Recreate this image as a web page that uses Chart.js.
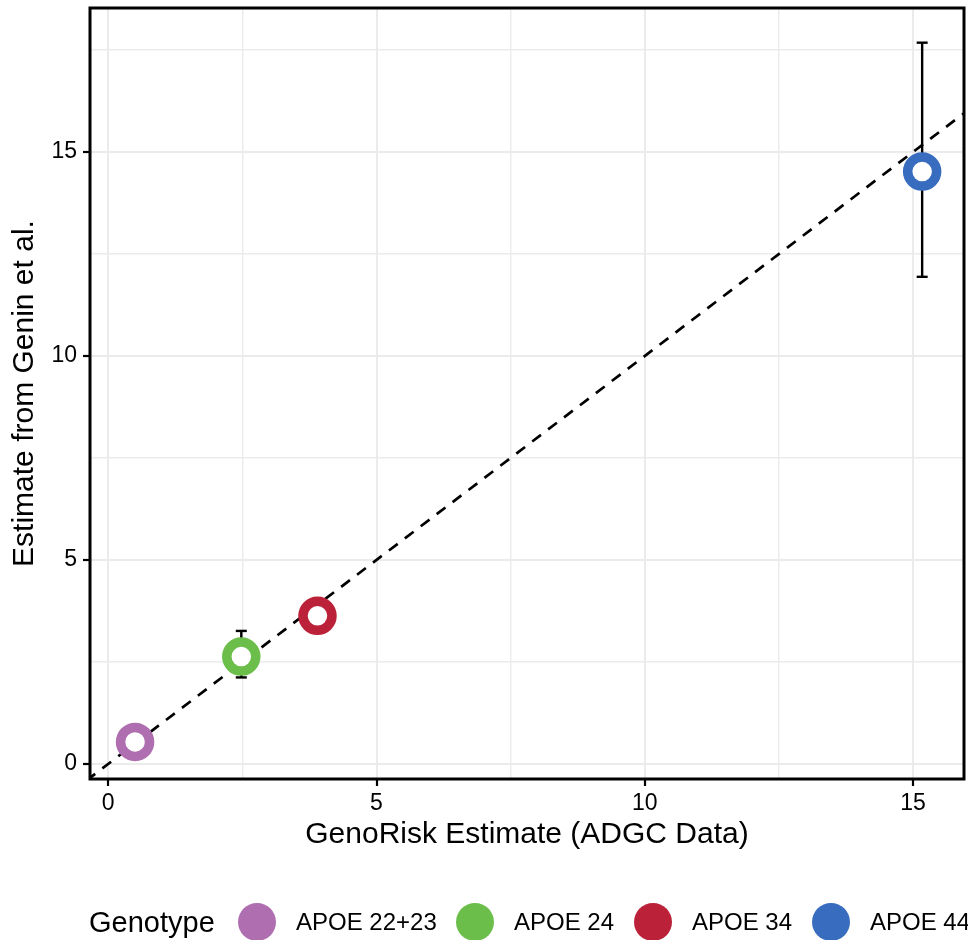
<!DOCTYPE html>
<html lang="en">
<head>
<meta charset="utf-8">
<title>GenoRisk vs Genin et al.</title>
<script src="https://cdn.jsdelivr.net/npm/chart.js@4.4.1/dist/chart.umd.min.js"></script>
<style>
  html, body { margin: 0; padding: 0; background: #fff; overflow: hidden; }
  #wrap { position: relative; width: 968px; height: 940px; overflow: hidden; }
  #legend {
    position: absolute; left: 89px; top: 903px; height: 38px;
    display: flex; align-items: center; white-space: nowrap;
    font-family: 'Liberation Sans', Arial, sans-serif; color: #000;
  }
  #legend .title { font-size: 29px; width: 149px; flex: none; }
  #legend .key { width: 38px; height: 38px; border-radius: 50%; margin-right: 20px; flex: none; }
  #legend .lab { font-size: 24px; flex: none; }
  #legend .l0 { width: 160px; }
  #legend .l1 { width: 120px; }
  #legend .l2 { width: 120px; }
</style>
</head>
<body>
<div id="wrap">
  <canvas id="chart" width="968" height="940"></canvas>
  <div id="legend"></div>
</div>
<script>
// values
const genotypes = ['APOE 22+23', 'APOE 24', 'APOE 34', 'APOE 44'];
const genoRisk = [0.50, 2.48, 3.90, 15.17];   // x: GenoRisk estimate
const genin = [0.54, 2.63, 3.63, 14.52];      // y: Genin et al. estimate
const geninLow = [null, 2.12, null, 11.94];   // error bar ends (only where visible)
const geninHigh = [null, 3.26, null, 17.68];
const identityLine = [-1, 17];                // y = x reference line
const xTicks = [0, 2.5, 5, 7.5, 10, 12.5, 15];
const yTicks = [0, 2.5, 5, 7.5, 10, 12.5, 15, 17.5];
const xLimits = [-0.34, 15.95];
const yLimits = [-0.37, 18.53];

const colors = ['#AE6EB0', '#6CBE4B', '#BB2138', '#386CBE'];
const fontFamily = "'Liberation Sans', Arial, sans-serif";

document.addEventListener('DOMContentLoaded', () => {
    const legend = document.getElementById('legend');
    legend.innerHTML = '<span class="title">Genotype</span>' + genotypes.map((g, i) =>
        `<span class="key" style="background:${colors[i]}"></span><span class="lab l${i}">${g}</span>`
    ).join('');

    const isMajor = v => v % 5 === 0;

    const pointSets = genotypes.map((g, i) => ({
        label: g,
        type: 'scatter',
        data: [{ x: genoRisk[i], y: genin[i] }],
        pointRadius: 14.5,
        pointHoverRadius: 14.5,
        pointBorderWidth: 9.5,
        pointBackgroundColor: '#fff',
        pointBorderColor: colors[i],
        order: 0
    }));

    const errorSets = genotypes
        .map((g, i) => i)
        .filter(i => geninLow[i] !== null)
        .map(i => ({
            label: genotypes[i] + ' CI',
            type: 'line',
            data: [{ x: genoRisk[i], y: geninLow[i] }, { x: genoRisk[i], y: geninHigh[i] }],
            borderColor: '#000',
            borderWidth: 2.4,
            pointStyle: 'line',
            pointRadius: 5.5,
            pointHoverRadius: 5.5,
            pointBorderWidth: 2.4,
            pointBorderColor: '#000',
            order: 1
        }));

    const refLine = {
        label: 'y = x',
        type: 'line',
        data: identityLine.map(v => ({ x: v, y: v })),
        borderColor: '#000',
        borderWidth: 2.7,
        borderDash: [11, 9],
        pointRadius: 0,
        clip: 0,
        order: 2
    };

    const panelBorder = {
        id: 'panelBorder',
        afterDraw(chart) {
            const { ctx, chartArea: a } = chart;
            ctx.save();
            ctx.strokeStyle = '#000';
            ctx.lineWidth = 3;
            ctx.strokeRect(a.left, a.top, a.right - a.left, a.bottom - a.top);
            ctx.restore();
        }
    };

    const gridFor = () => ({
        color: '#EBEBEB',
        lineWidth: c => (c.tick && isMajor(c.tick.value) ? 2 : 1.4),
        tickColor: c => (c.tick && isMajor(c.tick.value) ? '#000' : 'rgba(0,0,0,0)'),
        tickWidth: 2.2,
        tickLength: 7
    });

    // fixed axis boxes so the panel sits where it does in the figure
    const noPad = s => { s.paddingTop = 0; s.paddingBottom = 0; s.paddingLeft = 0; s.paddingRight = 0; };

    new Chart(document.getElementById('chart'), {
        type: 'scatter',
        data: { datasets: [...pointSets, ...errorSets, refLine] },
        options: {
            responsive: false,
            animation: false,
            layout: { autoPadding: false, padding: { top: 8, right: 4, bottom: 90, left: 0 } },
            plugins: { legend: { display: false }, tooltip: { enabled: false } },
            scales: {
                x: {
                    type: 'linear',
                    min: xLimits[0],
                    max: xLimits[1],
                    afterBuildTicks: s => { s.ticks = xTicks.map(v => ({ value: v })); },
                    afterFit: s => { s.height = 71; noPad(s); },
                    ticks: {
                        callback: v => (isMajor(v) ? String(v) : ''),
                        autoSkip: false,
                        maxRotation: 0,
                        padding: 4,
                        color: '#000',
                        font: { family: fontFamily, size: 23 }
                    },
                    grid: gridFor(),
                    border: { display: false },
                    title: {
                        display: true,
                        text: 'GenoRisk Estimate (ADGC Data)',
                        color: '#000',
                        font: { family: fontFamily, size: 30, lineHeight: 1 },
                        padding: { top: 0, bottom: 0 }
                    }
                },
                y: {
                    type: 'linear',
                    min: yLimits[0],
                    max: yLimits[1],
                    afterBuildTicks: s => { s.ticks = yTicks.map(v => ({ value: v })); },
                    afterFit: s => { s.width = 90; noPad(s); },
                    ticks: {
                        callback: v => (isMajor(v) ? String(v) : ''),
                        autoSkip: false,
                        padding: 6,
                        color: '#000',
                        font: { family: fontFamily, size: 23 }
                    },
                    grid: gridFor(),
                    border: { display: false },
                    title: {
                        display: true,
                        text: 'Estimate from Genin et al.',
                        color: '#000',
                        font: { family: fontFamily, size: 30, lineHeight: 1 },
                        padding: { top: 10, bottom: 0 }
                    }
                }
            }
        },
        plugins: [panelBorder]
    });
});
</script>
</body>
</html>
